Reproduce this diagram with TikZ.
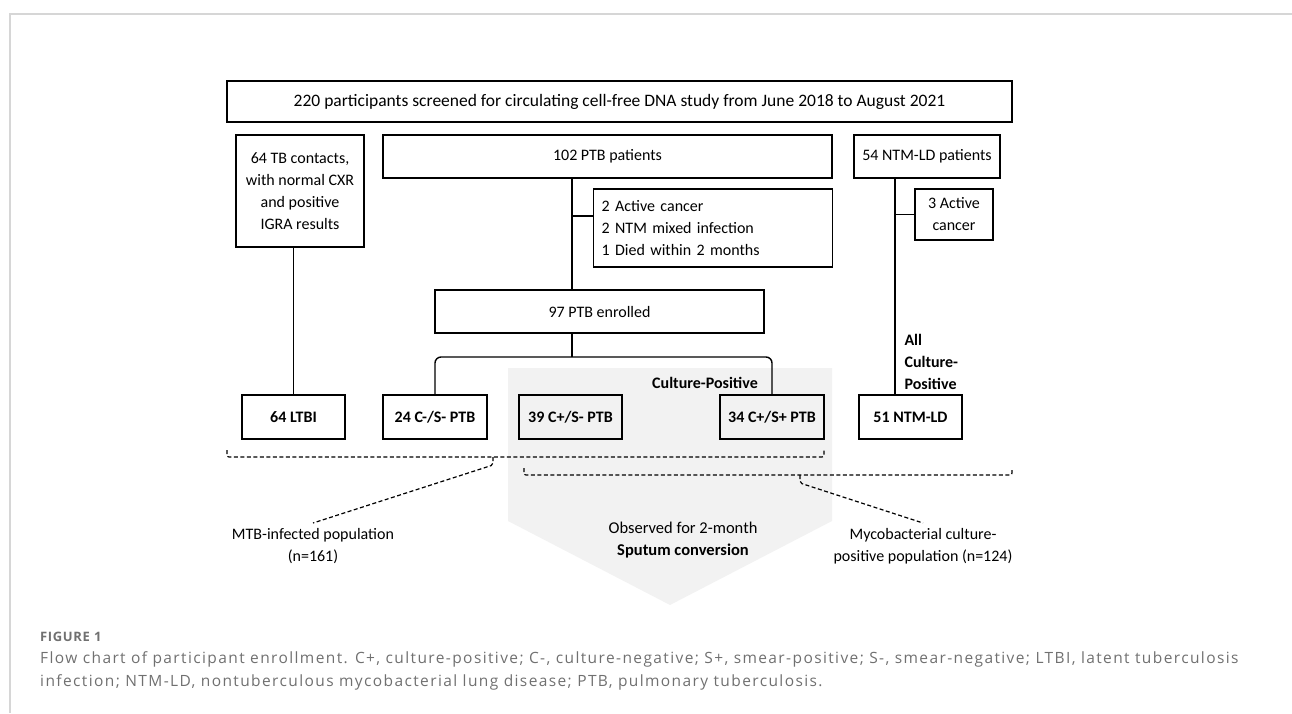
\documentclass[tikz,border=0pt]{standalone}
\usepackage{fontspec}
\setmainfont{Carlito}
\newfontfamily\capfont[LetterSpace=9]{Open Sans}
\newfontfamily\capheadfont[LetterSpace=5]{Open Sans}
\usetikzlibrary{positioning}
\definecolor{paleGray}{HTML}{F2F2F2}
\definecolor{capGray}{HTML}{707070}
\definecolor{frameGray}{HTML}{D6D6D6}

\begin{document}
\begin{tikzpicture}[x=1pt,y=-1pt,
	every node/.style={font=\fontsize{16}{22}\selectfont},
	box/.style={draw, line width=1.4pt, inner sep=2pt, align=center},
	leaf/.style={box, font=\fontsize{16}{22}\selectfont\bfseries, minimum width=103pt, minimum height=44pt},
	link/.style={line width=1.4pt},
	brace/.style={line width=1.2pt, dash pattern=on 4pt off 2.5pt, rounded corners=2pt}]
	\useasboundingbox (0,0) rectangle (1292,713);
	\draw[frameGray, line width=2pt] (10,713) -- (10,14) -- (1292,14);
	% grey arrow behind the culture-positive groups
	\fill[paleGray] (508,368) -- (832,368) -- (832,521) -- (670,605) -- (508,521) -- cycle;

	\node[box, minimum width=785pt, minimum height=41pt, font=\fontsize{17.5}{22}\selectfont] (screen) at (619.5,101.5)
		{220 participants screened for circulating cell-free DNA study from June 2018 to August 2021};
	\node[box, minimum width=128pt, minimum height=112pt] (contacts) at (300,191)
		{64 TB contacts,\\with normal CXR\\and positive\\IGRA results};
	\node[box, minimum width=449pt, minimum height=43pt] (ptb) at (607.5,156.5) {102 PTB patients};
	\node[box, minimum width=146pt, minimum height=43pt] (ntm) at (927,156.5) {54 NTM-LD patients};
	\node[box, anchor=west, text width=223pt, inner xsep=8pt, align=left, minimum height=78pt] (excl) at (593,228)
		{2 Active cancer\\2 NTM mixed infection\\1 Died within 2 months};
	\node[box, minimum width=78pt, minimum height=51pt] (cancer) at (954,214.5) {3 Active\\cancer};
	\node[box, minimum width=329pt, minimum height=43pt] (enrolled) at (599.5,311.5) {97 PTB enrolled};

	\node[leaf] (ltbi) at (293.5,417) {64 LTBI};
	\node[leaf, minimum width=104pt] (cneg) at (435,417) {24 C-/S- PTB};
	\node[leaf] (cpos) at (570.5,417) {39 C+/S- PTB};
	\node[leaf, minimum width=104pt] (cposs) at (772,417) {34 C+/S+ PTB};
	\node[leaf] (ntmld) at (910.5,417) {51 NTM-LD};

	\coordinate (spine) at (572,0);
	\coordinate (ntmspine) at (895,0);
	\coordinate (bar) at (0,357);
	\draw[link] (ltbi.north |- contacts.south) -- (ltbi.north);
	\draw[link] (ptb.south -| spine) -- (enrolled.north -| spine);
	\draw[link] ([yshift=12pt]excl.west) -- ([yshift=12pt]excl.west -| spine);
	\draw[link] (enrolled.south -| spine) -- (bar -| spine);
	\draw[link, rounded corners=6pt] (cneg.north) -- (cneg.north |- bar) -- (cposs.north |- bar) -- (cposs.north);
	\draw[link] (ntm.south -| ntmspine) -- (ntmld.north -| ntmspine);
	\draw[link] (cancer.west) -- (cancer.west -| ntmspine);

	\node[font=\fontsize{16}{22}\selectfont\bfseries] (culture) at (705,383) {Culture-Positive};
	\node[anchor=west, align=left, font=\fontsize{16}{22}\selectfont\bfseries] (allpos) at (901,362)
		{All\\Culture-\\Positive};
	\node[align=center, font=\fontsize{16.5}{22}\selectfont] (observed) at (683,540) {Observed for 2-month\\\textbf{Sputum conversion}};

	% population brackets
	\node[anchor=north, align=center, inner sep=5pt] (mtb) at (313,523)
		{MTB-infected population\\(n=161)};
	\node[anchor=north, align=center, inner sep=5pt] (myco) at (923,523)
		{Mycobacterial culture-\\positive population (n=124)};
	\coordinate (mtbmid) at (493,457);
	\coordinate (mycomid) at (800,475);
	\draw[brace] (227,450) |- (mtbmid) -| (824,450);
	\draw[brace] (mtbmid) -- ++(0,8) -- (mtb.north);
	\draw[brace] (524,468) |- (mycomid) -| (1012,468);
	\draw[brace] (mycomid) -- ++(0,8) -- (myco.north);

	% caption
	\node[anchor=base west, inner sep=0pt, capGray, font=\capheadfont\bfseries\fontsize{13}{14}\selectfont] (figno) at (40,641) {FIGURE 1};
	\node[anchor=north west, inner sep=0pt, capGray, align=left, font=\capfont\fontsize{15.5}{23}\selectfont] (caption) at (40,651)
		{Flow chart of participant enrollment. C+, culture-positive; C-, culture-negative; S+, smear-positive; S-, smear-negative; LTBI, latent tuberculosis\\
		infection; NTM-LD, nontuberculous mycobacterial lung disease; PTB, pulmonary tuberculosis.};
\end{tikzpicture}
\end{document}
